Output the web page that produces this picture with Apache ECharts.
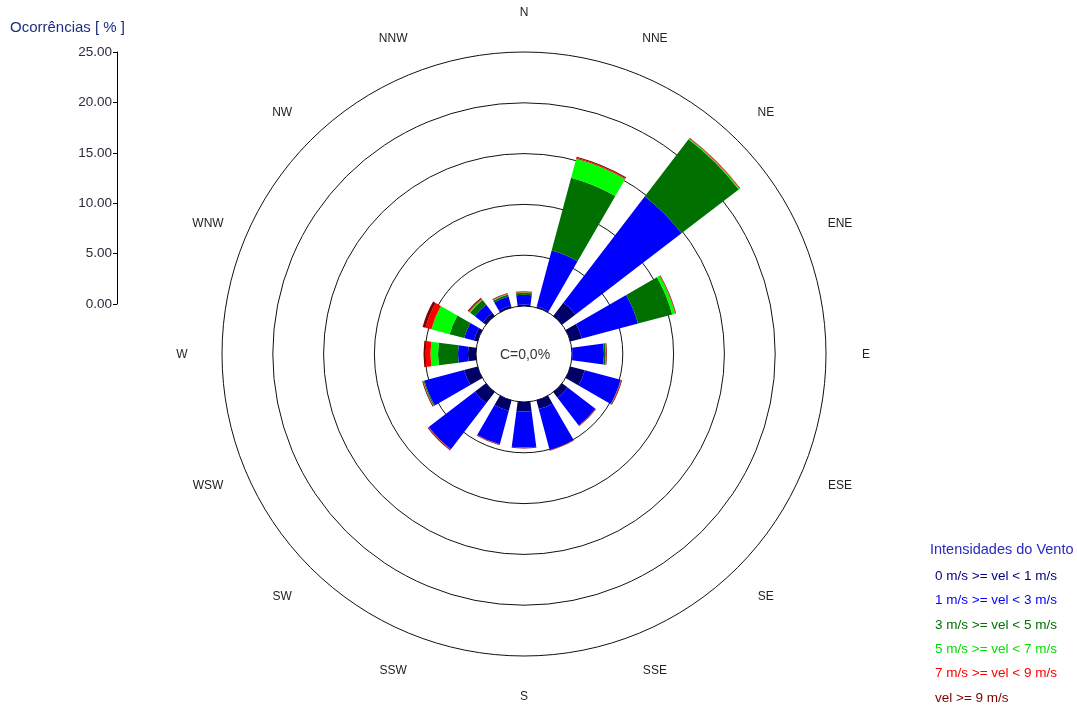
<!DOCTYPE html>
<html>
<head>
<meta charset="utf-8">
<title>Rosa dos Ventos</title>
<script src="https://cdn.jsdelivr.net/npm/echarts@6/dist/echarts.min.js"></script>
<style>
  html, body { margin: 0; padding: 0; background: #fff; }
  #chart { width: 1077px; height: 710px; }
</style>
</head>
<body>
<div id="chart"></div>
<script>
// Wind directions (16 sectors, clockwise from north)
const directions = ['N', 'NNE', 'NE', 'ENE', 'E', 'ESE', 'SE', 'SSE',
                    'S', 'SSW', 'SW', 'WSW', 'W', 'WNW', 'NW', 'NNW'];

// Occurrence frequency [%] per direction for each wind speed class
const vel0to1 = [0.15, 0.15, 1.67, 1.18, 0.05, 1.48, 0.69, 0.89, 0.94, 1.08, 1.38, 1.38, 0.79, 0.39, 0.39, 0.20];
const vel1to3 = [0.95, 5.66, 13.14, 5.71, 3.10, 3.64, 3.44, 4.13, 3.54, 3.40, 5.71, 4.04, 0.98, 0.98, 0.98, 0.94];
const vel3to5 = [0.20, 7.43, 7.09, 3.49, 0.18, 0.03, 0.02, 0.02, 0.01, 0.01, 0.02, 0.10, 1.97, 1.48, 0.59, 0.20];
const vel5to7 = [0.05, 1.92, 0.10, 0.30, 0.03, 0.00, 0.00, 0.00, 0.00, 0.00, 0.00, 0.02, 0.74, 1.87, 0.10, 0.05];
const vel7to9 = [0.05, 0.10, 0.05, 0.05, 0.03, 0.05, 0.03, 0.03, 0.03, 0.03, 0.04, 0.03, 0.54, 0.59, 0.10, 0.05];
const vel9up  = [0.05, 0.10, 0.05, 0.05, 0.06, 0.07, 0.05, 0.05, 0.06, 0.06, 0.08, 0.08, 0.15, 0.30, 0.10, 0.05];

// Radial scale tick values [%]
const radialTicks = [0, 5, 10, 15, 20, 25];
const calmLabel = 'C=0,0%';

const classNames = [
  '0 m/s >= vel < 1 m/s',
  '1 m/s >= vel < 3 m/s',
  '3 m/s >= vel < 5 m/s',
  '5 m/s >= vel < 7 m/s',
  '7 m/s >= vel < 9 m/s',
  'vel >= 9 m/s'
];
const classData = [vel0to1, vel1to3, vel3to5, vel5to7, vel7to9, vel9up];
const barColors = ['#000066', '#0000ff', '#007000', '#00ff00', '#ff0000', '#800000'];
const textColors = ['#000080', '#0000ff', '#007000', '#00e000', '#ff0000', '#800000'];

const FONT = '"Liberation Sans", Arial, sans-serif';
const CENTER = [524, 354];
const RADII = [48, 302];
const DIR_LABEL_GAP = 40;   // distance of direction labels beyond the outer ring

const chart = echarts.init(document.getElementById('chart'), null, { renderer: 'canvas' });

const series = classNames.map((name, i) => ({
  name: name,
  type: 'bar',
  coordinateSystem: 'polar',
  stack: 'rose',
  barCategoryGap: '33%',
  data: classData[i],
  itemStyle: { color: barColors[i] },
  emphasis: { disabled: true },
  animation: false
}));

const staticGraphics = [
  {
    type: 'text',
    style: {
      x: 10, y: 28,
      text: 'Ocorrências [ % ]',
      fill: '#1c2e80',
      font: '15px ' + FONT,
      verticalAlign: 'middle'
    }
  },
  {
    type: 'text',
    style: {
      x: 525, y: 355,
      text: calmLabel,
      fill: '#333',
      font: '14px ' + FONT,
      align: 'center',
      verticalAlign: 'middle'
    }
  },
  {
    type: 'text',
    style: {
      x: 930, y: 550,
      text: 'Intensidades do Vento',
      fill: '#2a2ac0',
      font: '14.5px ' + FONT,
      verticalAlign: 'middle'
    }
  }
];

const option = {
  animation: false,
  polar: {
    center: CENTER,
    radius: RADII
  },
  angleAxis: {
    type: 'category',
    data: directions,
    startAngle: 90 + 360 / 32,
    clockwise: true,
    boundaryGap: true,
    axisLine: { show: false },
    axisTick: { show: false },
    splitLine: { show: false },
    axisLabel: { show: false }
  },
  radiusAxis: {
    type: 'value',
    min: radialTicks[0],
    max: radialTicks[radialTicks.length - 1],
    interval: radialTicks[1] - radialTicks[0],
    axisLine: { show: false },
    axisTick: { show: false },
    axisLabel: { show: false },
    splitLine: { show: true, lineStyle: { color: '#111', width: 1 } }
  },
  grid: {
    left: 117,
    top: 52,
    height: 252,
    width: 1
  },
  xAxis: {
    type: 'value',
    show: false
  },
  yAxis: {
    type: 'value',
    position: 'left',
    min: radialTicks[0],
    max: radialTicks[radialTicks.length - 1],
    interval: radialTicks[1] - radialTicks[0],
    axisLine: { show: true, lineStyle: { color: '#000', width: 1 } },
    axisTick: { show: true, length: 4, lineStyle: { color: '#000' } },
    splitLine: { show: false },
    axisLabel: {
      margin: 5,
      color: '#2a2a3a',
      fontSize: 13.5,
      fontFamily: FONT,
      formatter: v => v.toFixed(2)
    }
  },
  legend: {
    orient: 'vertical',
    left: 930,
    top: 569,
    height: 141,
    padding: 0,
    icon: 'none',
    itemWidth: 0,
    itemHeight: 14,
    itemGap: 10.4,
    selectedMode: false,
    textStyle: { fontSize: 13.5, fontFamily: FONT },
    data: classNames.map((n, i) => ({ name: n, textStyle: { color: textColors[i] } }))
  },
  graphic: staticGraphics,
  series: series
};

chart.setOption(option);

// Direction labels: centred on the bearing of each sector, just outside the outer ring.
const rMax = radialTicks[radialTicks.length - 1];
const dirLabels = directions.map((d, i) => {
  const p = chart.convertToPixel({ seriesIndex: 0 }, [rMax, i]);
  const dx = p[0] - CENTER[0];
  const dy = p[1] - CENTER[1];
  const len = Math.sqrt(dx * dx + dy * dy);
  const k = (len + DIR_LABEL_GAP) / len;
  return {
    type: 'text',
    silent: true,
    style: {
      x: CENTER[0] + dx * k,
      y: CENTER[1] + dy * k + 1,
      text: d,
      fill: '#222',
      font: '12px ' + FONT,
      align: 'center',
      verticalAlign: 'middle'
    }
  };
});

chart.setOption({ graphic: staticGraphics.concat(dirLabels) });
</script>
</body>
</html>
